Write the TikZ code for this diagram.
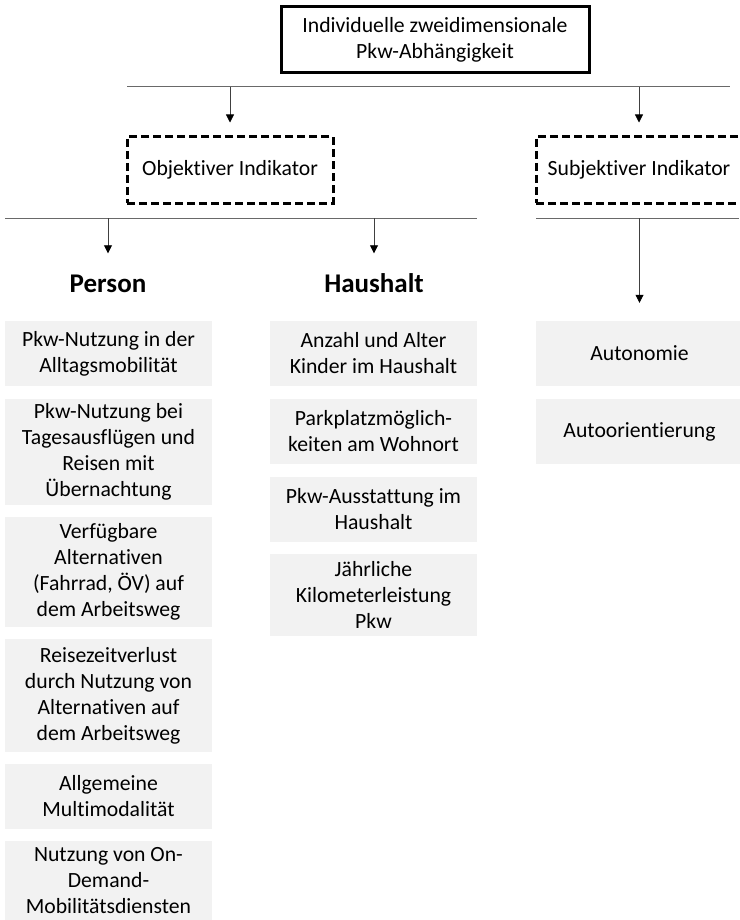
\documentclass[tikz,border=0pt]{standalone}
\usepackage{fontspec}
\setmainfont{Carlito}[Ligatures=NoCommon]
\usetikzlibrary{arrows.meta}

\definecolor{boxgray}{RGB}{242,242,242}
\definecolor{bargray}{RGB}{105,105,105}

\tikzset{
  root/.style={draw, line width=3pt, minimum width=308pt, minimum height=66pt, align=center, inner sep=0pt},
  indicator/.style={draw, line width=3pt, dash pattern=on 8pt off 4pt, minimum width=206pt, minimum height=66pt, inner sep=0pt},
  group/.style={font=\fontsize{27}{30}\selectfont\bfseries, inner sep=0pt, text height=17pt, text depth=0pt},
  leaf/.style={fill=boxgray, minimum width=207pt, inner sep=0pt, align=center},
  bar/.style={draw=bargray, line width=1pt},
  arr/.style={-{Triangle[length=8pt,width=8pt,black]}, line width=0.8pt, draw=black!75}
}

\begin{document}
\begin{tikzpicture}[x=1pt, y=-1pt, font=\fontsize{21.7}{26}\selectfont]
\useasboundingbox (0,0) rectangle (739,920);

\node[root] (pkw) at (435,40) {Individuelle zweidimensionale\\Pkw-Abh\"angigkeit};
\node[indicator] (obj) at (230,170) {Objektiver Indikator};
\node[indicator] (subj) at (639,170) {Subjektiver Indikator};

\coordinate (top-l) at (127,87);
\coordinate (top-r) at (730,87);
\coordinate (obj-l) at (5,218);
\coordinate (obj-r) at (477,218);
\coordinate (subj-l) at (536,218);
\coordinate (subj-r) at (739,218);
\draw[bar] (top-l) -- (top-r);
\draw[bar] (obj-l) -- (obj-r);
\draw[bar] (subj-l) -- (subj-r);

\node[group] (person) at (108,284) {Person};
\node[group] (haushalt) at (374,284) {Haushalt};

\node[leaf, minimum height=65pt] (p1) at (108.5,353.5) {Pkw-Nutzung in der\\Alltagsmobilit\"at};
\node[leaf, minimum height=106pt] (p2) at (108.5,452) {Pkw-Nutzung bei\\Tagesausfl\"ugen und\\Reisen mit\\\"Ubernachtung};
\node[leaf, minimum height=110pt] (p3) at (108.5,572) {Verf\"ugbare\\Alternativen\\(Fahrrad, \"OV) auf\\dem Arbeitsweg};
\node[leaf, minimum height=113pt] (p4) at (108.5,695.5) {Reisezeitverlust\\durch Nutzung von\\Alternativen auf\\dem Arbeitsweg};
\node[leaf, minimum height=65pt] (p5) at (108.5,796.5) {Allgemeine\\Multimodalit\"at};
\node[leaf, minimum height=80pt] (p6) at (108.5,880.5) {Nutzung von On-\\Demand-\\Mobilit\"atsdiensten};

\node[leaf, minimum height=65pt] (h1) at (373.5,353.5) {Anzahl und Alter\\Kinder im Haushalt};
\node[leaf, minimum height=65pt] (h2) at (373.5,431.5) {Parkplatzm\"oglich-\\keiten am Wohnort};
\node[leaf, minimum height=65pt] (h3) at (373.5,509.5) {Pkw-Ausstattung im\\Haushalt};
\node[leaf, minimum height=82pt] (h4) at (373.5,595) {J\"ahrliche\\Kilometerleistung\\Pkw};

\node[leaf, minimum height=65pt] (s1) at (639.5,353.5) {Autonomie};
\node[leaf, minimum height=65pt] (s2) at (639.5,431.5) {Autoorientierung};

\draw[arr, shorten >=13pt] (obj |- top-l) -- (obj);
\draw[arr, shorten >=13pt] (subj |- top-l) -- (subj);
\draw[arr, shorten >=22pt] (person |- obj-l) -- (person);
\draw[arr, shorten >=22pt] (haushalt |- obj-l) -- (haushalt);
\draw[arr, shorten >=18pt] (s1 |- subj-l) -- (s1);
\end{tikzpicture}
\end{document}
